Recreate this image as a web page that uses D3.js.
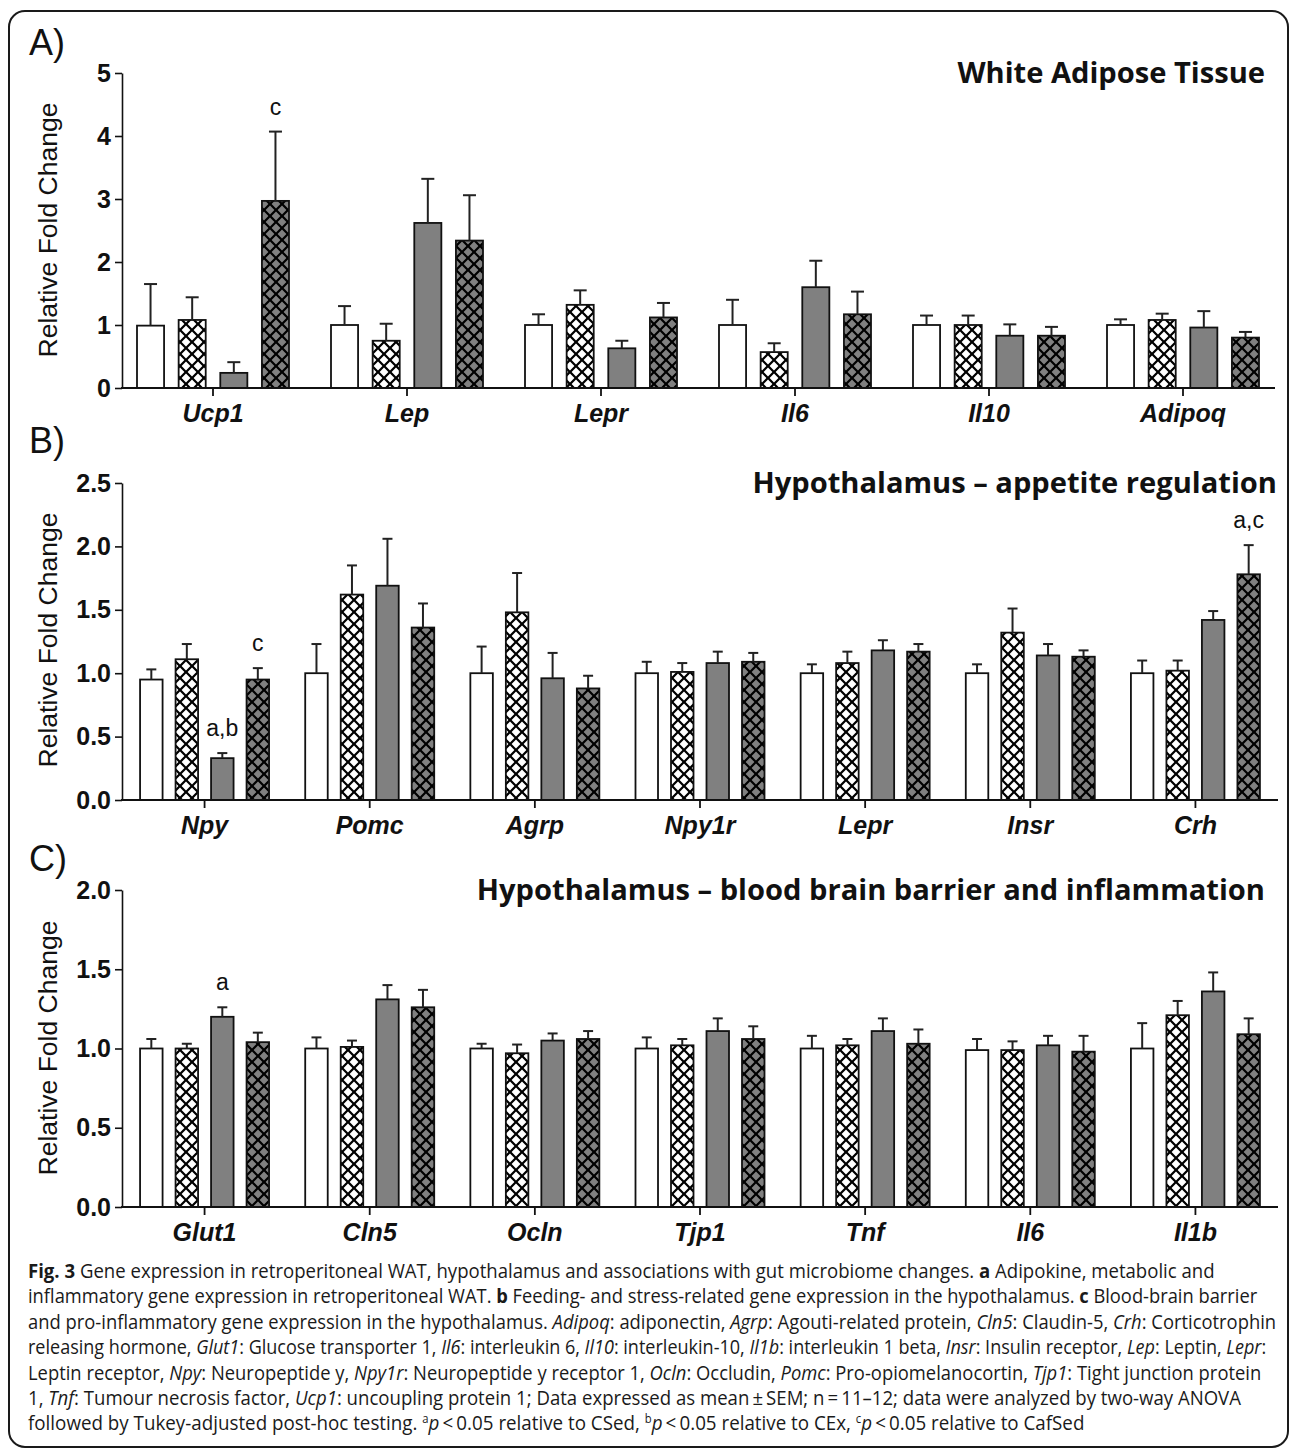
<!DOCTYPE html>
<html>
<head>
<meta charset="utf-8">
<script src="https://d3js.org/d3.v7.min.js"></script>
<style>
  body { margin: 0; background: #fff; }
  svg { display: block; }
</style>
</head>
<body>
<svg id="fig" width="1292" height="1451"></svg>
<script>
// groups: CSed (white), CEx (white diamonds), CafSed (grey), CafEx (grey diamonds)

// ---- A) White adipose tissue
const genesA = ["Ucp1", "Lep", "Lepr", "Il6", "Il10", "Adipoq"];
const ticksA = [0, 1, 2, 3, 4, 5];
const csedA   = [0.99, 1.00, 1.00, 1.00, 1.00, 1.00];
const cexA    = [1.08, 0.75, 1.32, 0.57, 1.00, 1.08];
const cafSedA = [0.24, 2.62, 0.63, 1.60, 0.83, 0.96];
const cafExA  = [2.97, 2.34, 1.12, 1.17, 0.83, 0.80];
const csedSemA   = [0.66, 0.30, 0.17, 0.40, 0.15, 0.09];
const cexSemA    = [0.36, 0.27, 0.23, 0.14, 0.15, 0.10];
const cafSedSemA = [0.17, 0.70, 0.12, 0.42, 0.18, 0.26];
const cafExSemA  = [1.10, 0.72, 0.23, 0.36, 0.14, 0.09];
const sigA = [{gene: "Ucp1", s: 3, text: "c"}];

// ---- B) Hypothalamus, appetite
const genesB = ["Npy", "Pomc", "Agrp", "Npy1r", "Lepr", "Insr", "Crh"];
const ticksB = [0, 0.5, 1.0, 1.5, 2.0, 2.5];
const csedB   = [0.95, 1.00, 1.00, 1.00, 1.00, 1.00, 1.00];
const cexB    = [1.11, 1.62, 1.48, 1.01, 1.08, 1.32, 1.02];
const cafSedB = [0.33, 1.69, 0.96, 1.08, 1.18, 1.14, 1.42];
const cafExB  = [0.95, 1.36, 0.88, 1.09, 1.17, 1.13, 1.78];
const csedSemB   = [0.08, 0.23, 0.21, 0.09, 0.07, 0.07, 0.10];
const cexSemB    = [0.12, 0.23, 0.31, 0.07, 0.09, 0.19, 0.08];
const cafSedSemB = [0.04, 0.37, 0.20, 0.09, 0.08, 0.09, 0.07];
const cafExSemB  = [0.09, 0.19, 0.10, 0.07, 0.06, 0.05, 0.23];
const sigB = [{gene: "Npy", s: 2, text: "a,b"}, {gene: "Npy", s: 3, text: "c"}, {gene: "Crh", s: 3, text: "a,c"}];

// ---- C) Hypothalamus, BBB and inflammation
const genesC = ["Glut1", "Cln5", "Ocln", "Tjp1", "Tnf", "Il6", "Il1b"];
const ticksC = [0, 0.5, 1.0, 1.5, 2.0];
const csedC   = [1.00, 1.00, 1.00, 1.00, 1.00, 0.99, 1.00];
const cexC    = [1.00, 1.01, 0.97, 1.02, 1.02, 0.99, 1.21];
const cafSedC = [1.20, 1.31, 1.05, 1.11, 1.11, 1.02, 1.36];
const cafExC  = [1.04, 1.26, 1.06, 1.06, 1.03, 0.98, 1.09];
const csedSemC   = [0.06, 0.07, 0.03, 0.07, 0.08, 0.07, 0.16];
const cexSemC    = [0.03, 0.04, 0.055, 0.04, 0.04, 0.055, 0.09];
const cafSedSemC = [0.06, 0.09, 0.045, 0.08, 0.08, 0.06, 0.12];
const cafExSemC  = [0.06, 0.11, 0.05, 0.08, 0.09, 0.10, 0.10];
const sigC = [{gene: "Glut1", s: 2, text: "a"}];

const panels = [
  {tag: "A)", tagY: 55, title: "White Adipose Tissue", titleX: 1265, titleY: 83,
   genes: genesA, means: [csedA, cexA, cafSedA, cafExA], sems: [csedSemA, cexSemA, cafSedSemA, cafExSemA],
   sig: sigA, ticks: ticksA, fmt: d3.format("d"), yMax: 5, y0: 388, y1: 73,
   xr: [116, 1280], xEnd: 1275, half: 76, pad: 0.35, cap: 13, labelY: 230},
  {tag: "B)", tagY: 453, title: "Hypothalamus \u2013 appetite regulation", titleX: 1277, titleY: 493,
   genes: genesB, means: [csedB, cexB, cafSedB, cafExB], sems: [csedSemB, cexSemB, cafSedSemB, cafExSemB],
   sig: sigB, ticks: ticksB, fmt: d3.format(".1f"), yMax: 2.5, y0: 800, y1: 483,
   xr: [122, 1278], xEnd: 1278, half: 64.5, pad: 0.366, cap: 10, labelY: 640},
  {tag: "C)", tagY: 871, title: "Hypothalamus \u2013 blood brain barrier and inflammation", titleX: 1265, titleY: 900,
   genes: genesC, means: [csedC, cexC, cafSedC, cafExC], sems: [csedSemC, cexSemC, cafSedSemC, cafExSemC],
   sig: sigC, ticks: ticksC, fmt: d3.format(".1f"), yMax: 2, y0: 1207, y1: 890,
   xr: [122, 1278], xEnd: 1278, half: 64.5, pad: 0.366, cap: 10, labelY: 1048}
];

const axisX = 122;
const arial = "'Liberation Sans', Arial, sans-serif";
const svg = d3.select("#fig");

// diamond patterns
const defs = svg.append("defs");
function diamondPath(cx, cy, h) {
  return `M${cx},${cy - h}L${cx + h},${cy}L${cx},${cy + h}L${cx - h},${cy}Z`;
}
function makePattern(id, diamondFill) {
  const p = defs.append("pattern").attr("id", id)
    .attr("patternUnits", "userSpaceOnUse").attr("width", 12).attr("height", 12);
  p.append("rect").attr("width", 12).attr("height", 12).attr("fill", "#000");
  const d = [[6, 6], [0, 0], [12, 0], [0, 12], [12, 12]].map(c => diamondPath(c[0], c[1], 4.4)).join("");
  p.append("path").attr("d", d).attr("fill", diamondFill);
}
makePattern("crossWhite", "#fff");
makePattern("crossGrey", "#808080");
const fills = ["#fff", "url(#crossWhite)", "#808080", "url(#crossGrey)"];

// frame
svg.append("rect").attr("x", 9).attr("y", 11).attr("width", 1279).attr("height", 1436)
  .attr("rx", 16).attr("fill", "none").attr("stroke", "#1a1a1a").attr("stroke-width", 2);

function drawPanel(p) {
  const g = svg.append("g");
  const y = d3.scaleLinear().domain([0, p.yMax]).range([p.y0, p.y1]);
  const x = d3.scaleBand().domain(p.genes).range(p.xr);
  const xs = d3.scaleBand().domain(d3.range(4)).range([-p.half, p.half]).paddingInner(p.pad);
  const bw = xs.bandwidth();
  const cx = (gene, s) => x(gene) + x.bandwidth() / 2 + xs(s);

  // bars + error bars
  p.means.forEach((vals, s) => {
    const sg = g.append("g");
    sg.selectAll("rect").data(p.genes).join("rect")
      .attr("x", gn => cx(gn, s))
      .attr("y", (gn, i) => y(vals[i]))
      .attr("width", bw)
      .attr("height", (gn, i) => p.y0 - y(vals[i]))
      .attr("fill", fills[s])
      .attr("stroke", "#111").attr("stroke-width", 1.8);
    const eg = g.append("g").attr("stroke", "#222").attr("stroke-width", 2);
    eg.selectAll("line.v").data(p.genes).join("line").attr("class", "v")
      .attr("x1", gn => cx(gn, s) + bw / 2).attr("x2", gn => cx(gn, s) + bw / 2)
      .attr("y1", (gn, i) => y(vals[i])).attr("y2", (gn, i) => y(vals[i] + p.sems[s][i]));
    eg.selectAll("line.c").data(p.genes).join("line").attr("class", "c")
      .attr("x1", gn => cx(gn, s) + bw / 2 - p.cap / 2).attr("x2", gn => cx(gn, s) + bw / 2 + p.cap / 2)
      .attr("y1", (gn, i) => y(vals[i] + p.sems[s][i])).attr("y2", (gn, i) => y(vals[i] + p.sems[s][i]));
  });

  // significance letters
  g.selectAll("text.sig").data(p.sig).join("text").attr("class", "sig")
    .attr("x", d => cx(d.gene, d.s) + bw / 2)
    .attr("y", d => {
      const i = p.genes.indexOf(d.gene);
      return y(p.means[d.s][i] + p.sems[d.s][i]) - 17;
    })
    .attr("text-anchor", "middle")
    .style("font", `23px ${arial}`).attr("fill", "#111")
    .text(d => d.text);

  // y axis
  const ya = g.append("g").attr("transform", `translate(${axisX},0)`)
    .call(d3.axisLeft(y).tickValues(p.ticks).tickFormat(p.fmt).tickSize(7).tickSizeOuter(0).tickPadding(4));
  ya.select(".domain").attr("stroke", "#111").attr("stroke-width", 1.6);
  ya.selectAll(".tick line").attr("stroke", "#111").attr("stroke-width", 1.6);
  ya.selectAll(".tick text").style("font", `bold 25px ${arial}`).attr("fill", "#111");

  // x axis
  const xa = g.append("g").attr("transform", `translate(0,${p.y0})`)
    .call(d3.axisBottom(x).tickSize(8).tickSizeOuter(0).tickPadding(8));
  xa.select(".domain").remove();
  xa.selectAll(".tick line").attr("stroke", "#111").attr("stroke-width", 1.8);
  xa.selectAll(".tick text").style("font", `italic bold 25px ${arial}`).attr("fill", "#111");
  g.append("line").attr("x1", axisX - 1).attr("x2", p.xEnd).attr("y1", p.y0).attr("y2", p.y0)
    .attr("stroke", "#111").attr("stroke-width", 2.2);

  // axis title
  g.append("text").attr("transform", `translate(48,${p.labelY}) rotate(-90)`)
    .attr("text-anchor", "middle").attr("dy", "0.35em")
    .style("font", `26.5px ${arial}`).attr("fill", "#111")
    .text("Relative Fold Change");

  // panel tag
  g.append("text").attr("x", 29).attr("y", p.tagY)
    .style("font", `36px ${arial}`).attr("fill", "#111").text(p.tag);

  // panel title
  g.append("text").attr("class", "ptitle").attr("x", p.titleX).attr("y", p.titleY)
    .attr("text-anchor", "end")
    .style("font-family", "'Open Sans', sans-serif").style("font-weight", 700)
    .style("font-size", "26px").attr("fill", "#111")
    .text(p.title);
}

panels.forEach(drawPanel);

// fit title font so the B title spans its width in the reference
const tB = svg.selectAll("text.ptitle").nodes()[1];
const fs = 26 * 525 / tB.getComputedTextLength();
svg.selectAll("text.ptitle").style("font-size", fs + "px");

// caption
const captionLines = [
  [["Fig. 3", "b"], [" Gene expression in retroperitoneal WAT, hypothalamus and associations with gut microbiome changes. "], ["a", "b"], [" Adipokine, metabolic and"]],
  [["inflammatory gene expression in retroperitoneal WAT. "], ["b", "b"], [" Feeding- and stress-related gene expression in the hypothalamus. "], ["c", "b"], [" Blood-brain barrier"]],
  [["and pro-inflammatory gene expression in the hypothalamus. "], ["Adipoq", "i"], [": adiponectin, "], ["Agrp", "i"], [": Agouti-related protein, "], ["Cln5", "i"], [": Claudin-5, "], ["Crh", "i"], [": Corticotrophin"]],
  [["releasing hormone, "], ["Glut1", "i"], [": Glucose transporter 1, "], ["Il6", "i"], [": interleukin 6, "], ["Il10", "i"], [": interleukin-10, "], ["Il1b", "i"], [": interleukin 1 beta, "], ["Insr", "i"], [": Insulin receptor, "], ["Lep", "i"], [": Leptin, "], ["Lepr", "i"], [":"]],
  [["Leptin receptor, "], ["Npy", "i"], [": Neuropeptide y, "], ["Npy1r", "i"], [": Neuropeptide y receptor 1, "], ["Ocln", "i"], [": Occludin, "], ["Pomc", "i"], [": Pro-opiomelanocortin, "], ["Tjp1", "i"], [": Tight junction protein"]],
  [["1, "], ["Tnf", "i"], [": Tumour necrosis factor, "], ["Ucp1", "i"], [": uncoupling protein 1; Data expressed as mean\u2009\u00b1\u2009SEM; n\u2009=\u200911\u201312; data were analyzed by two-way ANOVA"]],
  [["followed by Tukey-adjusted post-hoc testing. "], ["a", "sup"], ["p", "i"], ["\u2009<\u20090.05 relative to CSed, "], ["b", "sup"], ["p", "i"], ["\u2009<\u20090.05 relative to CEx, "], ["c", "sup"], ["p", "i"], ["\u2009<\u20090.05 relative to CafSed"]]
];
// right end of each caption line in the reference
const captionEnds = [1215, 1258, 1277, 1267, 1262, 1242, 1085];

const cap = svg.append("g");
captionLines.forEach((segs, li) => {
  const t = cap.append("text").attr("x", 0).attr("y", 0)
    .style("font-family", "'Open Sans', sans-serif").style("font-size", "20px").attr("fill", "#1a1a1a");
  segs.forEach(([str, st]) => {
    const ts = t.append("tspan").text(str);
    if (st === "b") ts.style("font-weight", 700);
    if (st === "i") ts.style("font-style", "italic");
    if (st === "sup") ts.attr("baseline-shift", "super").style("font-size", "12px");
  });
  const sx = (captionEnds[li] - 28) / t.node().getComputedTextLength();
  t.attr("transform", `translate(28,${1278 + li * 25.4}) scale(${sx},1)`);
});
</script>
</body>
</html>
